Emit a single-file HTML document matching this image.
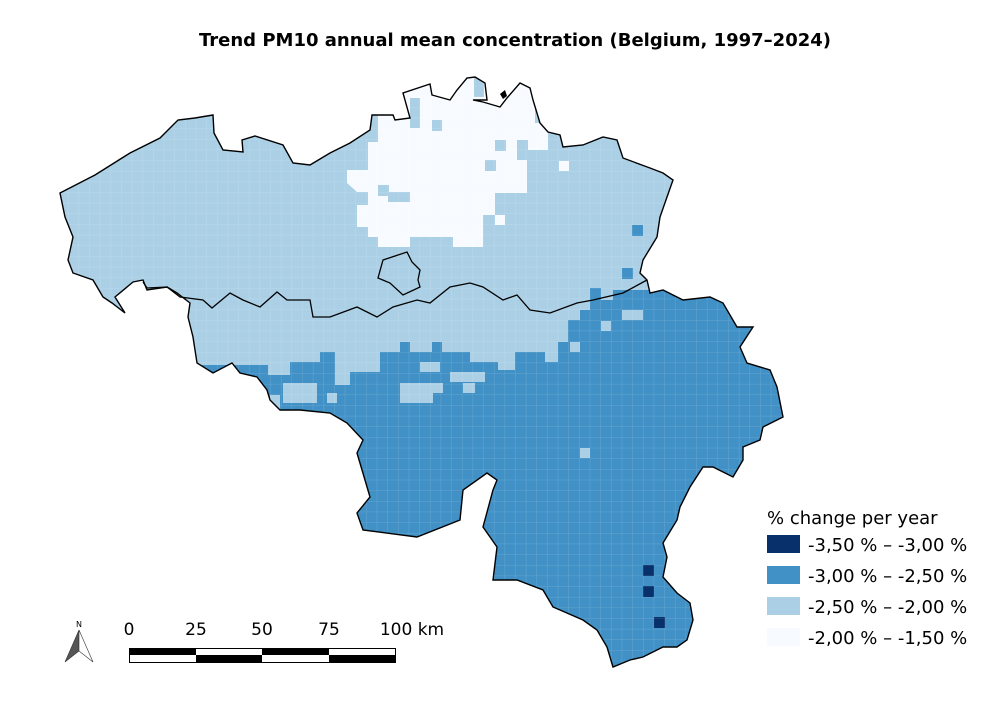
<!DOCTYPE html>
<html><head><meta charset="utf-8"><style>
html,body{margin:0;padding:0;background:#fff}
svg{display:block;font-family:"DejaVu Sans","Liberation Sans",sans-serif}
</style></head><body>
<svg width="1000" height="704" viewBox="0 0 1000 704" xmlns="http://www.w3.org/2000/svg">
<defs>
<clipPath id="be"><path id="outline" d="M60,193 L95,175 L130,153 L160,138 L178,120 L195,118 L213,115 L214,133 L223,150 L243,152 L242,140 L255,136 L283,145 L293,163 L310,165 L330,153 L350,143 L370,130 L372,115 L393,115 L395,120 L410,118 L403,93 L430,84 L432,95 L450,100 L457,90 L467,78 L475,77 L485,83 L487,100 L473,100 L483,102 L500,107 L507,98 L520,83 L530,88 L533,100 L540,123 L548,132 L560,135 L563,147 L583,145 L603,137 L617,140 L623,158 L650,168 L663,173 L673,180 L667,197 L660,217 L657,237 L643,260 L640,273 L647,280 L650,293 L663,290 L683,300 L710,297 L723,303 L737,327 L753,327 L740,347 L747,363 L770,370 L777,387 L783,417 L763,427 L760,440 L743,447 L743,460 L733,477 L713,467 L703,467 L690,487 L680,507 L677,520 L663,543 L667,557 L663,577 L677,593 L690,603 L693,620 L687,640 L677,647 L663,647 L643,657 L630,660 L613,667 L607,647 L597,630 L583,620 L553,607 L543,590 L517,580 L493,580 L497,547 L483,527 L493,490 L497,480 L487,473 L463,490 L460,520 L417,537 L363,530 L357,513 L370,497 L357,453 L363,440 L347,423 L330,413 L300,410 L280,410 L270,400 L267,390 L257,377 L240,373 L232,363 L213,373 L197,363 L193,337 L188,317 L190,303 L177,293 L167,287 L147,290 L143,280 L133,282 L115,297 L125,313 L112,303 L103,297 L93,280 L73,273 L68,260 L73,237 L65,217 Z"/></clipPath>
<pattern id="grid" x="4" y="0.5" width="10.65" height="10.65" patternUnits="userSpaceOnUse"><path d="M0,0 H10.65 M0,0 V10.65" stroke="#ffffff" stroke-opacity="0.18" stroke-width="1" fill="none"/></pattern>
</defs>
<text x="515" y="46" text-anchor="middle" font-size="18" font-weight="bold" fill="#000">Trend PM10 annual mean concentration (Belgium, 1997–2024)</text>
<g clip-path="url(#be)">
<rect x="0" y="0" width="1000" height="704" fill="#abd0e6"/>
<path fill="#f7fbff" d="M378,70 L378,142 L368,142 L368,170 L347,170 L347,183 L357,192 L368,192 L368,205 L357,205 L357,227 L368,227 L368,247 L410,247 L410,237 L453,237 L453,247 L483,247 L483,215 L495,215 L495,193 L527,193 L527,150 L548,150 L548,123 L535,123 L535,70 Z"/>
<g fill="#abd0e6">
<rect x="410" y="98" width="10" height="30"/><rect x="432" y="120" width="10" height="11"/><rect x="495" y="140" width="11" height="11"/><rect x="485" y="160" width="11" height="11"/><rect x="517" y="140" width="11" height="20"/><rect x="378" y="185" width="11" height="11"/><rect x="388" y="192" width="22" height="10"/><rect x="368" y="237" width="10" height="10"/><rect x="474" y="77" width="10" height="20"/>
</g>
<g fill="#f7fbff"><rect x="559" y="161" width="10" height="10"/><rect x="495" y="215" width="10" height="10"/></g>
<path fill="#4191c6" d="M180,365 L268,365 L268,375 L290,375 L290,362 L320,362 L320,352 L335,352 L335,385 L350,385 L350,372 L380,372 L380,352 L400,352 L400,342 L410,342 L410,352 L432,352 L432,342 L442,342 L442,352 L470,352 L470,362 L498,362 L498,370 L515,370 L515,352 L545,352 L545,362 L558,362 L558,342 L568,342 L568,320 L580,320 L580,310 L590,310 L590,290 L800,290 L800,704 L180,704 Z"/>
<g fill="#abd0e6">
<rect x="283" y="383" width="34" height="20"/><rect x="327" y="393" width="10" height="10"/><rect x="400" y="383" width="33" height="20"/><rect x="433" y="383" width="10" height="10"/><rect x="450" y="372" width="35" height="10"/><rect x="463" y="383" width="12" height="10"/><rect x="420" y="362" width="20" height="10"/><rect x="270" y="395" width="10" height="15"/>
<rect x="580" y="448" width="10" height="10"/><rect x="601" y="321" width="10" height="10"/><rect x="622" y="310" width="21" height="10"/><rect x="600" y="290" width="13" height="10"/><rect x="570" y="342" width="10" height="10"/>
</g>
<g fill="#4191c6"><rect x="632" y="225" width="11" height="11"/><rect x="622" y="268" width="11" height="11"/><rect x="590" y="288" width="11" height="12"/></g>
<g fill="#08306b"><rect x="643" y="565" width="11" height="11"/><rect x="643" y="586" width="11" height="11"/><rect x="654" y="617" width="11" height="11"/></g>
<rect x="0" y="0" width="1000" height="704" fill="url(#grid)"/>
</g>
<use href="#outline" fill="none" stroke="#000" stroke-width="1.4"/>
<path fill="none" stroke="#000" stroke-width="1.3" d="M143,282 L147,288 L167,287 L180,297 L203,300 L212,308 L230,293 L243,300 L260,307 L277,292 L287,300 L310,300 L313,317 L330,317 L357,307 L377,317 L393,307 L417,300 L430,303 L450,287 L470,283 L483,287 L503,300 L517,295 L530,310 L550,313 L577,303 L593,300 L623,293 L647,280"/>
<path fill="none" stroke="#000" stroke-width="1.3" d="M383,260 L395,256 L407,252 L412,262 L420,270 L418,280 L420,287 L403,295 L390,283 L378,278 Z"/>
<path fill="#000" d="M500,94 L505,90 L507,96 L503,99 Z"/>
<text x="767" y="524" font-size="18" fill="#000">% change per year</text>
<rect x="767" y="535" width="33" height="18" fill="#08306b"/>
<rect x="767" y="566" width="33" height="18" fill="#4191c6"/>
<rect x="767" y="597" width="33" height="18" fill="#abd0e6"/>
<rect x="767" y="628" width="33" height="18" fill="#f7fbff"/>
<g font-size="18" fill="#000">
<text x="808" y="551">-3,50 % – -3,00 %</text>
<text x="808" y="582">-3,00 % – -2,50 %</text>
<text x="808" y="613">-2,50 % – -2,00 %</text>
<text x="808" y="644">-2,00 % – -1,50 %</text>
</g>
<g font-size="17" fill="#000" text-anchor="middle">
<text x="129" y="635">0</text><text x="196" y="635">25</text><text x="262" y="635">50</text><text x="329" y="635">75</text><text x="412" y="635">100 km</text>
</g>
<rect x="129.5" y="648.5" width="266" height="14" fill="#fff" stroke="#000" stroke-width="1"/>
<rect x="129" y="648" width="67" height="7" fill="#000"/><rect x="262" y="648" width="67" height="7" fill="#000"/>
<rect x="196" y="655" width="66" height="7" fill="#000"/><rect x="329" y="655" width="66" height="7" fill="#000"/>
<text x="79" y="627" font-size="8" text-anchor="middle">N</text>
<path d="M79,630 L65,662 L79,651 Z" fill="#555" stroke="#333" stroke-width="0.6"/>
<path d="M79,630 L93,662 L79,651 Z" fill="#fff" stroke="#333" stroke-width="0.6"/>
</svg>
</body></html>
